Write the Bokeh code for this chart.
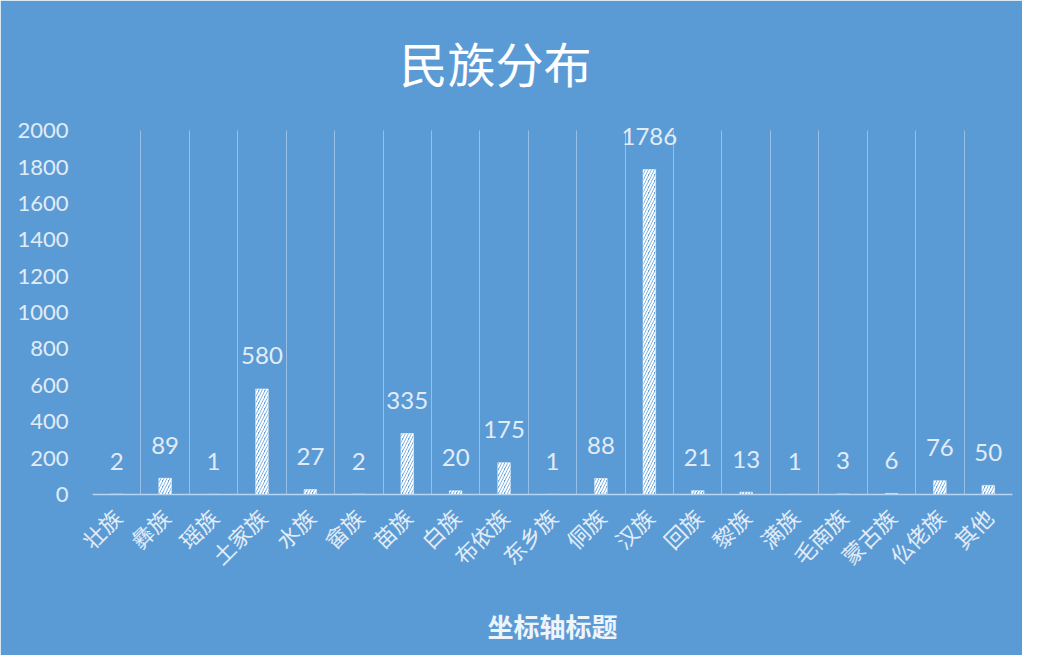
import math
from bokeh.plotting import figure
from bokeh.models import ColumnDataSource, LabelSet, FixedTicker, Range1d
from bokeh.core.properties import value
from bokeh.embed import file_html
from bokeh.resources import INLINE

categories = ["壮族", "彝族", "瑶族", "土家族", "水族", "畲族", "苗族", "白族", "布依族",
              "东乡族", "侗族", "汉族", "回族", "黎族", "满族", "毛南族", "蒙古族", "仫佬族", "其他"]
counts = [2, 89, 1, 580, 27, 2, 335, 20, 175, 1, 88, 1786, 21, 13, 1, 3, 6, 76, 50]
y_ticks = [0, 200, 400, 600, 800, 1000, 1200, 1400, 1600, 1800, 2000]
title_text = "民族分布"
x_title = "坐标轴标题"

BG = "#5B9BD5"
TXT = "#e2ecf7"
CJK = "Noto Sans CJK SC"
NUM = "Lato"

positions = list(range(len(categories)))
src = ColumnDataSource(dict(x=positions, y=counts, label=[str(v) for v in counts]))

p = figure(width=1022, height=655, x_range=Range1d(-0.5, len(categories) - 0.5),
           y_range=Range1d(0, 2100), output_backend="svg", toolbar_location=None,
           min_border_left=92, min_border_right=10, min_border_bottom=161, min_border_top=112)
p.background_fill_color = BG
p.border_fill_color = BG
p.outline_line_color = BG
p.outline_line_width = 2

p.title.text = title_text
p.title.align = "left"
p.title.offset = 307
p.title.vertical_align = "top"
p.title.standoff = 27
p.title.text_font_size = "48px"
p.title.text_font = CJK
p.title.text_font_style = "normal"
p.title.text_color = "white"

p.vbar(x="x", top="y", width=0.26, source=src, fill_color=None,
       line_color="white", line_alpha=0.5, line_width=1,
       hatch_pattern="/", hatch_color="white", hatch_scale=6, hatch_weight=2)

labels = LabelSet(x="x", y="y", text="label", source=src, y_offset=33,
                  text_align="center", text_baseline="middle",
                  text_font=value(NUM), text_font_size="24px", text_color=TXT)
p.add_layout(labels)

p.ygrid.visible = False
p.xgrid.ticker = FixedTicker(ticks=[i - 0.5 for i in range(len(categories) + 1)])
p.xgrid.grid_line_color = "#a7c8ea"
p.xgrid.grid_line_alpha = 0.8
p.xgrid.grid_line_width = 1
try:
    p.xgrid.cross_bounds = (0, y_ticks[-1])
except Exception:
    pass

xa = p.xaxis[0]
xa.ticker = FixedTicker(ticks=positions)
xa.major_label_overrides = {i: c for i, c in enumerate(categories)}
xa.major_label_orientation = math.pi / 4
xa.major_label_text_font = CJK
xa.major_label_text_font_size = "22px"
xa.major_label_text_color = TXT
xa.major_label_standoff = 12
xa.major_tick_line_color = None
xa.minor_tick_line_color = None
xa.axis_line_color = "#b9d4f0"
xa.axis_line_width = 1.5
xa.axis_label = x_title
xa.axis_label_text_font = CJK
xa.axis_label_text_font_size = "26px"
xa.axis_label_text_font_style = "bold"
xa.axis_label_text_color = "#eef4fb"
xa.axis_label_standoff = 22

ya = p.yaxis[0]
ya.ticker = FixedTicker(ticks=y_ticks)
ya.axis_line_color = None
ya.major_tick_line_color = None
ya.minor_tick_line_color = None
ya.major_label_standoff = 18
ya.major_label_text_font = NUM
ya.major_label_text_font_size = "22px"
ya.major_label_text_color = TXT

open("out.html", "w").write(file_html(p, INLINE))
